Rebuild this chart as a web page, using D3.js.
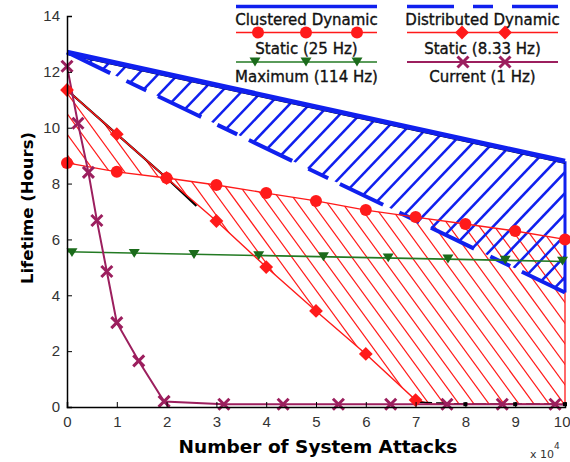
<!DOCTYPE html>
<html>
<head>
<meta charset="utf-8">
<script src="https://cdn.jsdelivr.net/npm/d3@7"></script>
<style>
  body { margin: 0; background: #fff; }
  svg { display: block; }
</style>
</head>
<body>
<svg id="chart" width="570" height="462"></svg>
<script>
// Number of system attacks is in units of 10^4, lifetime in hours.
const xTicks = [0, 1, 2, 3, 4, 5, 6, 7, 8, 9, 10];
const yTicks = [0, 2, 4, 6, 8, 10, 12, 14];

// Dynamic schemes: upper (clustered) and lower (distributed) bounds
const clusteredX = [0, 10];
const clusteredY = [12.7, 8.8];
const distributedX = [0, 10];
const distributedY = [12.7, 4.1];

// Static 25 Hz (circles)
const static25X = [0, 1, 2, 3, 4, 5, 6, 7, 8, 9, 10];
const static25Y = [8.74, 8.42, 8.2, 7.95, 7.66, 7.38, 7.05, 6.8, 6.55, 6.3, 6.0];

// Static 8.33 Hz (diamonds on the first eight points)
const static833X = [0, 1, 2, 3, 4, 5, 6, 7, 7.3, 10];
const static833Y = [11.35, 9.77, 8.2, 6.66, 5.01, 3.44, 1.9, 0.25, 0.1, 0.1];
const static833Marked = 8;

// Maximum 114 Hz (triangles)
const maxLineX = [0, 10];
const maxLineY = [5.56, 5.21];
const maxMarkX = [0.1, 1.35, 2.55, 3.85, 5.15, 6.45, 7.65, 8.8, 9.95];
const maxMarkY = [5.53, 5.5, 5.46, 5.42, 5.38, 5.34, 5.3, 5.26, 5.22];

// Current 1 Hz (crosses on every point except the last)
const currentX = [0, 0.22, 0.43, 0.6, 0.8, 1.0, 1.44, 1.95, 3.15, 4.34, 5.45, 6.5, 7.63, 8.74, 9.8, 10];
const currentY = [12.2, 10.16, 8.4, 6.68, 4.85, 3.02, 1.65, 0.2, 0.1, 0.1, 0.1, 0.1, 0.1, 0.1, 0.1, 0.08];

// Reference traces drawn in black
const refTopX = [0, 10];
const refTopY = [12.62, 8.72];
const refLowX = [0, 1, 2, 2.6];
const refLowY = [11.35, 9.77, 8.2, 7.2];
const refTailX = [7.05, 7.5, 8, 9, 10];
const refTailY = [0.17, 0.14, 0.1, 0.1, 0.1];

const legendLabels = [
  ["Clustered Dynamic", "Distributed Dynamic"],
  ["Static (25 Hz)", "Static (8.33 Hz)"],
  ["Maximum (114 Hz)", "Current (1 Hz)"]
];

const BLUE = "#1020ee";
const RED = "#ff1a1a";
const GREEN = "#237a23";
const GREEN_MARK = "#1b6b1b";
const PURPLE = "#9c1f5e";

const svg = d3.select("#chart");
const x = d3.scaleLinear().domain([0, 10]).range([67, 565]);
const y = d3.scaleLinear().domain([0, 14]).range([407, 16]);

const pts = (xs, ys) => xs.map((v, i) => [x(v), y(ys[i])]);
const line = d3.line();

const defs = svg.append("defs");

// ---- hatched regions ----
function hatch(id, polygon, slope, spacing, anchor, color, width) {
  defs.append("clipPath").attr("id", id)
    .append("path").attr("d", "M" + polygon.map(p => p.join(",")).join("L") + "Z");
  const g = svg.append("g").attr("clip-path", `url(#${id})`);
  const top = 10, bottom = 410;
  // x-position where a line crosses y = top, stepping by spacing
  const start = anchor[0] - (anchor[1] - top) / slope;
  const lines = [];
  for (let k = -80; k <= 80; k++) {
    const xt = start + k * spacing;
    const xb = xt + (bottom - top) / slope;
    if (Math.max(xt, xb) < 60 || Math.min(xt, xb) > 575) continue;
    lines.push([[xt, top], [xb, bottom]]);
  }
  g.selectAll("line").data(lines).join("line")
    .attr("x1", d => d[0][0]).attr("y1", d => d[0][1])
    .attr("x2", d => d[1][0]).attr("y2", d => d[1][1])
    .attr("stroke", color).attr("stroke-width", width);
}

// red region between the two static curves
const redPoly = pts(static25X, static25Y).concat(pts(static833X, static833Y).reverse());
hatch("redClip", redPoly, 1.37, 15, [405, 330], RED, 1.2);

// blue region between clustered and distributed dynamic bounds
const bluePoly = [[x(clusteredX[0]), y(clusteredY[0])], [x(clusteredX[1]), y(clusteredY[1])],
                  [x(distributedX[1]), y(distributedY[1])]];
hatch("blueClip", bluePoly, -1.05, 20, [226.7, 128.3], BLUE, 2.5);

// region right edges
svg.append("path").attr("d", line([[x(10), y(static25Y[10])], [x(10), y(static833Y[static833Y.length - 1])]]))
  .attr("stroke", RED).attr("stroke-width", 1.3).attr("fill", "none");
svg.append("path").attr("d", line([[x(10), y(clusteredY[1])], [x(10), y(distributedY[1])]]))
  .attr("stroke", BLUE).attr("stroke-width", 3).attr("fill", "none");

// ---- dynamic bounds ----
svg.append("path").attr("d", line(pts(refTopX, refTopY)))
  .attr("stroke", "#000").attr("stroke-width", 1).attr("fill", "none");
svg.append("path").attr("d", line(pts(clusteredX, clusteredY)))
  .attr("stroke", BLUE).attr("stroke-width", 5).attr("fill", "none");
svg.append("path").attr("d", line(pts(distributedX, distributedY)))
  .attr("stroke", BLUE).attr("stroke-width", 4).attr("fill", "none")
  .attr("stroke-dasharray", "48,18,22,13");

// ---- static and maximum curves ----
svg.append("path").attr("d", line(pts(refLowX, refLowY)))
  .attr("stroke", "#000").attr("stroke-width", 2.2).attr("fill", "none");
svg.append("path").attr("d", line(pts(maxLineX, maxLineY)))
  .attr("stroke", GREEN).attr("stroke-width", 1.6).attr("fill", "none");
svg.append("path").attr("d", line(pts(static25X, static25Y)))
  .attr("stroke", RED).attr("stroke-width", 1.4).attr("fill", "none");
svg.append("path").attr("d", line(pts(static833X, static833Y)))
  .attr("stroke", RED).attr("stroke-width", 1.4).attr("fill", "none");
svg.append("path").attr("d", line(pts(refTailX, refTailY)))
  .attr("stroke", "#000").attr("stroke-width", 1.6).attr("fill", "none")
  .attr("stroke-dasharray", "14,4");
svg.append("path").attr("d", line(pts(currentX, currentY)))
  .attr("stroke", PURPLE).attr("stroke-width", 2).attr("fill", "none");

// ---- markers ----
const triPath = s => `M${-s},${-s * 0.8}L${s},${-s * 0.8}L0,${s * 0.8}Z`;
const crossPath = s => `M${-s},${-s}L${s},${s}M${-s},${s}L${s},${-s}`;
const diamond = d3.symbol().type(d3.symbolSquare).size(95)();

svg.append("g").selectAll("rect").data(pts(refTailX, refTailY).slice(2)).join("rect")
  .attr("x", d => d[0] - 2).attr("y", d => d[1] - 2).attr("width", 4).attr("height", 4).attr("fill", "#000");

svg.append("g").selectAll("path").data(maxMarkX.map((v, i) => [x(v), y(maxMarkY[i])])).join("path")
  .attr("d", triPath(5.5)).attr("transform", d => `translate(${d[0]},${d[1]})`)
  .attr("fill", GREEN_MARK);
svg.append("g").selectAll("circle").data(pts(static25X, static25Y)).join("circle")
  .attr("cx", d => d[0]).attr("cy", d => d[1]).attr("r", 6).attr("fill", RED);
svg.append("g").selectAll("path").data(pts(static833X, static833Y).slice(0, static833Marked)).join("path")
  .attr("d", diamond).attr("transform", d => `translate(${d[0]},${d[1]}) rotate(45)`)
  .attr("fill", RED);
svg.append("g").selectAll("path").data(pts(currentX, currentY).slice(0, currentX.length - 1)).join("path")
  .attr("d", crossPath(5.5)).attr("transform", d => `translate(${d[0]},${d[1]})`)
  .attr("stroke", PURPLE).attr("stroke-width", 3).attr("fill", "none");

// ---- axes ----
const xAxis = d3.axisBottom(x).tickValues(xTicks).tickSize(-5).tickPadding(9).tickFormat(d3.format("d"));
const yAxis = d3.axisLeft(y).tickValues(yTicks).tickSize(-5).tickPadding(7).tickFormat(d3.format("d"));
const gx = svg.append("g").attr("transform", `translate(0,${y(0)})`).call(xAxis);
const gy = svg.append("g").attr("transform", `translate(${x(0)},0)`).call(yAxis);
[gx, gy].forEach(g => {
  g.select(".domain").attr("stroke", "#000").attr("stroke-width", 1.5);
  g.selectAll(".tick line").attr("stroke", "#000").attr("stroke-width", 1);
  g.selectAll(".tick text").attr("font-family", "Liberation Sans, Arial, sans-serif")
    .attr("font-size", 15).attr("fill", "#333");
});
// keep the last x label inside the frame
gx.selectAll(".tick text").filter(d => d === 10).attr("text-anchor", "end").attr("dx", 5);

svg.append("text").attr("x", 318).attr("y", 453).attr("text-anchor", "middle")
  .attr("font-family", "DejaVu Sans, sans-serif").attr("font-weight", "bold").attr("font-size", 18.5)
  .text("Number of System Attacks");
svg.append("text").attr("transform", "translate(33,208) rotate(-90)").attr("text-anchor", "middle")
  .attr("font-family", "DejaVu Sans, sans-serif").attr("font-weight", "bold").attr("font-size", 16.5)
  .text("Lifetime (Hours)");
const mult = svg.append("text").attr("x", 530).attr("y", 458)
  .attr("font-family", "DejaVu Sans, sans-serif").attr("font-size", 11).attr("fill", "#333");
mult.append("tspan").text("x 10");
mult.append("tspan").attr("dy", -9).attr("font-size", 9).text("4");

// ---- legend ----
const legend = svg.append("g").attr("font-family", "DejaVu Sans, sans-serif")
  .attr("font-size", 15).attr("fill", "#111").attr("stroke", "#111").attr("stroke-width", 0.35);
const cols = [[236, 377], [407, 558]];
const rowLineY = [6.5, 32.5, 62];
const rowTextY = [25, 54, 82];
cols.forEach((c, ci) => {
  rowTextY.forEach((ty, ri) => {
    legend.append("text").attr("x", (c[0] + c[1]) / 2).attr("y", ty)
      .attr("text-anchor", "middle").text(legendLabels[ri][ci]);
  });
});
const marks = svg.append("g");
// row 1: dynamic bounds
marks.append("line").attr("x1", cols[0][0]).attr("x2", cols[0][1]).attr("y1", rowLineY[0]).attr("y2", rowLineY[0])
  .attr("stroke", BLUE).attr("stroke-width", 3.5);
marks.append("line").attr("x1", cols[1][0]).attr("x2", cols[1][1]).attr("y1", rowLineY[0]).attr("y2", rowLineY[0])
  .attr("stroke", BLUE).attr("stroke-width", 3.5).attr("stroke-dasharray", "47,19,20,19");
// row 2: static curves
marks.append("line").attr("x1", cols[0][0]).attr("x2", cols[0][1]).attr("y1", rowLineY[1]).attr("y2", rowLineY[1])
  .attr("stroke", RED).attr("stroke-width", 1.4);
[258, 306, 357].forEach(cx => marks.append("circle").attr("cx", cx).attr("cy", rowLineY[1]).attr("r", 6).attr("fill", RED));
marks.append("line").attr("x1", cols[1][0]).attr("x2", cols[1][1]).attr("y1", rowLineY[1]).attr("y2", rowLineY[1])
  .attr("stroke", RED).attr("stroke-width", 1.4);
[462, 505].forEach(cx => marks.append("path").attr("d", diamond)
  .attr("transform", `translate(${cx},${rowLineY[1]}) rotate(45)`).attr("fill", RED));
// row 3: maximum and current
marks.append("line").attr("x1", cols[0][0]).attr("x2", cols[0][1]).attr("y1", rowLineY[2]).attr("y2", rowLineY[2])
  .attr("stroke", GREEN).attr("stroke-width", 1.6);
[255, 306, 357].forEach(cx => marks.append("path").attr("d", triPath(5.5))
  .attr("transform", `translate(${cx},${rowLineY[2]})`).attr("fill", GREEN_MARK));
marks.append("line").attr("x1", cols[1][0]).attr("x2", cols[1][1]).attr("y1", rowLineY[2]).attr("y2", rowLineY[2])
  .attr("stroke", PURPLE).attr("stroke-width", 2);
[463, 505].forEach(cx => marks.append("path").attr("d", crossPath(5.5))
  .attr("transform", `translate(${cx},${rowLineY[2]})`).attr("stroke", PURPLE).attr("stroke-width", 3).attr("fill", "none"));
</script>
</body>
</html>
